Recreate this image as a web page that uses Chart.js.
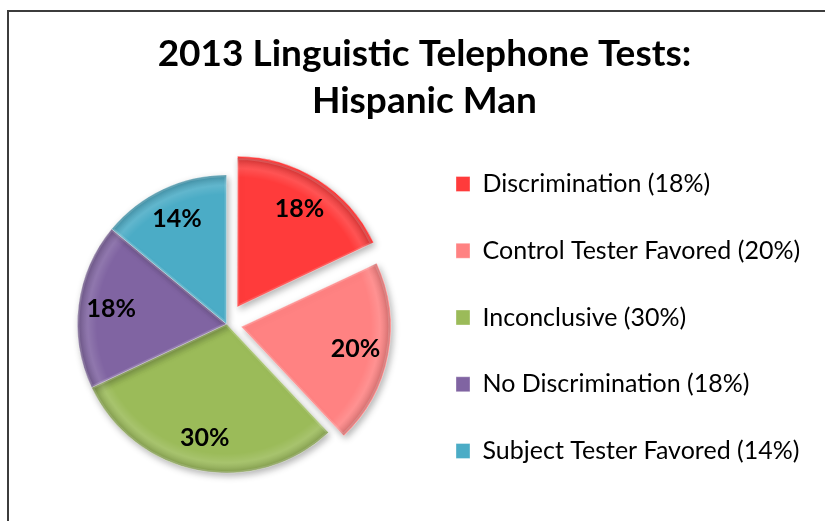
<!DOCTYPE html>
<html lang="en">
<head>
  <meta charset="UTF-8" />
  <title>2013 Linguistic Telephone Tests: Hispanic Man</title>
  <script src="https://cdn.jsdelivr.net/npm/chart.js"></script>
  <style>
    html, body { margin: 0; padding: 0; background: #fff; overflow: hidden; }
    #frame { position: absolute; left: 7px; top: 10px; width: 818px; height: 511px;
             border-left: 2px solid #3c3c3c; border-top: 2px solid #3c3c3c; }
    canvas { display: block; }
  </style>
</head>
<body>
  <div id="frame"><canvas id="pieChart" width="816" height="509"></canvas></div>

  <script>
    const titleLines = ['2013 Linguistic Telephone Tests:', 'Hispanic Man'];
    const categories = ['Discrimination', 'Control Tester Favored', 'Inconclusive', 'No Discrimination', 'Subject Tester Favored'];
    const shares = [18, 20, 30, 18, 14];

    const FONT = 'Lato';
    const legendSize = 25;
    const legendPad = 41.75;
    const boxW = 14;

    const legendText = categories.map((c, i) => c + ' (' + shares[i] + '%)');

    // legend sits right after the pie's box; leave whatever is left as right padding
    const probe = document.createElement('canvas').getContext('2d');
    probe.font = legendSize + 'px ' + FONT;
    const widest = Math.max(...legendText.map(t => probe.measureText(t).width));
    const legendLeft = 405.25;
    const padRight = Math.max(0, 816 - legendLeft - (legendPad + boxW + legendSize / 2 + widest + 10));

    // drop shadow under the slices, rim shading and the % labels on top
    const pieDressing = {
      id: 'pieDressing',
      beforeDatasetsDraw(chart) {
        const ctx = chart.ctx;
        ctx.save();
        ctx.shadowColor = 'rgba(0,0,0,0.30)';
        ctx.shadowBlur = 7;
        ctx.shadowOffsetX = 2;
        ctx.shadowOffsetY = 3;
      },
      afterDatasetsDraw(chart) {
        const ctx = chart.ctx;
        ctx.restore();
        const meta = chart.getDatasetMeta(0);
        meta.data.forEach((arc, i) => {
          const p = arc.getProps(['x', 'y', 'startAngle', 'endAngle', 'outerRadius'], true);
          const mid = (p.startAngle + p.endAngle) / 2;
          const shift = (arc.options.offset || 0) / 4;
          const cx = p.x + Math.cos(mid) * shift;
          const cy = p.y + Math.sin(mid) * shift;
          const r = p.outerRadius;

          ctx.save();
          ctx.beginPath();
          ctx.moveTo(cx, cy);
          ctx.arc(cx, cy, r, p.startAngle, p.endAngle);
          ctx.closePath();
          ctx.clip();
          const g = ctx.createRadialGradient(cx, cy, 0, cx, cy, r);
          g.addColorStop(0, 'rgba(255,255,255,0)');
          g.addColorStop(0.87, 'rgba(255,255,255,0)');
          g.addColorStop(0.93, 'rgba(255,255,255,0.12)');
          g.addColorStop(1, 'rgba(0,0,0,0.20)');
          ctx.fillStyle = g;
          ctx.fill();
          ctx.lineWidth = 4;
          ctx.strokeStyle = 'rgba(255,255,255,0.16)';
          ctx.stroke();
          ctx.restore();

          const d = r * 0.78;
          ctx.save();
          ctx.font = 'bold 25px ' + FONT;
          ctx.fillStyle = '#000';
          ctx.textAlign = 'center';
          ctx.textBaseline = 'middle';
          ctx.fillText(shares[i] + '%', cx + Math.cos(mid) * d, cy + Math.sin(mid) * d);
          ctx.restore();
        });
      }
    };

    new Chart(document.getElementById('pieChart'), {
      type: 'pie',
      data: {
        labels: legendText,
        datasets: [{
          data: shares,
          backgroundColor: ['#ff3b3b', '#ff8282', '#9bbb59', '#8064a2', '#4bacc6'],
          borderColor: 'rgba(255,255,255,0.35)',
          borderWidth: 1,
          offset: [80, 60, 0, 0, 0],
          radius: 149
        }]
      },
      options: {
        responsive: false,
        animation: false,
        layout: { padding: { top: 0, left: 29.75, right: padRight, bottom: 2.75 } },
        plugins: {
          title: {
            display: true,
            text: titleLines,
            color: '#000',
            font: { family: FONT, size: 37, weight: 'bold', lineHeight: 46.5 / 37 },
            padding: { top: 19.25, bottom: 5.5 }
          },
          legend: {
            position: 'right',
            align: 'start',
            fullSize: false,
            maxWidth: 600,
            labels: {
              color: '#000',
              font: { family: FONT, size: legendSize },
              boxWidth: boxW,
              boxHeight: 15,
              padding: legendPad
            }
          },
          tooltip: { enabled: false }
        }
      },
      plugins: [pieDressing]
    });
  </script>
</body>
</html>
